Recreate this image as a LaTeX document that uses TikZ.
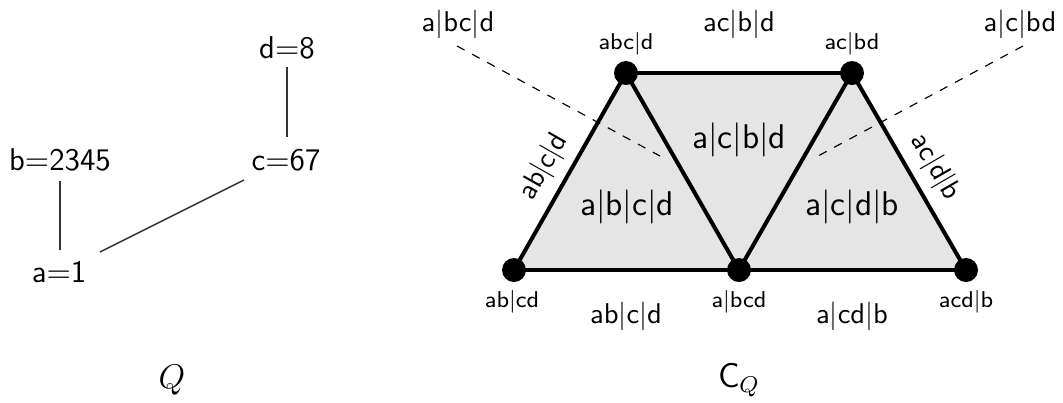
\documentclass[tikz,border=0pt]{standalone}
\begin{document}
\begin{tikzpicture}[x=0.35pt,y=-0.35pt,font=\sffamily,
  qlab/.style={inner sep=1pt,font=\sffamily\fontsize{11pt}{13pt}\selectfont},
  qedge/.style={black!80,line width=0.5pt},
  vert/.style={circle,fill=black,inner sep=0pt,minimum size=8.4pt},
  cedge/.style={line width=1.4pt,line cap=round},
  small/.style={font=\sffamily\footnotesize},
  big/.style={font=\sffamily},
  face/.style={font=\sffamily\large},
  dashline/.style={dashed,line width=0.4pt}]
\useasboundingbox (0,0) rectangle (1063,402);
% ---- Q ----
\node[qlab] (d) at (287,48) {d$=$8};
\node[qlab] (c) at (286,160) {c$=$67};
\node[qlab] (b) at (60,160) {b$=$2345};
\node[qlab] (a) at (59,272) {a$=$1};
\coordinate (dS) at (287,67); \coordinate (cN) at (287,137);
\coordinate (bS) at (60,181); \coordinate (aN) at (60,250);
\coordinate (aE) at (100,252); \coordinate (cW) at (244,180);
\draw[qedge] (dS) -- (cN);
\draw[qedge] (bS) -- (aN);
\draw[qedge] (aE) -- (cW);
\node[font=\large] (Qlab) at (172,380) {$Q$};
% ---- C_Q ----
\coordinate (v1) at (626,73);
\coordinate (v2) at (852,73);
\coordinate (v3) at (514,270);
\coordinate (v4) at (739,270);
\coordinate (v5) at (966,270);
\fill[black!10] (v3) -- (v1) -- (v2) -- (v5) -- cycle;
\coordinate (dl1) at (457,46); \coordinate (dl2) at (660,156);
\coordinate (dr1) at (1023,46); \coordinate (dr2) at (818,156);
\draw[dashline] (dl1) -- (dl2);
\draw[dashline] (dr1) -- (dr2);
\draw[cedge] (v3) -- (v1);
\draw[cedge] (v1) -- (v2);
\draw[cedge] (v2) -- (v5);
\draw[cedge] (v3) -- (v4);
\draw[cedge] (v4) -- (v5);
\draw[cedge] (v1) -- (v4);
\draw[cedge] (v4) -- (v2);
\node[vert] (n1) at (v1) {};
\node[vert] (n2) at (v2) {};
\node[vert] (n3) at (v3) {};
\node[vert] (n4) at (v4) {};
\node[vert] (n5) at (v5) {};
\path (v3) -- (v1) node[pos=0.46,sloped,above,inner sep=3.5pt,big] (eL) {ab$|$c$|$d};
\path (v2) -- (v5) node[pos=0.54,sloped,above,inner sep=3.5pt,big] (eR) {ac$|$d$|$b};
\node[small] (l1) at (626,44) {abc$|$d};
\node[small] (l2) at (852,44) {ac$|$bd};
\node[small] (l3) at (512,302) {ab$|$cd};
\node[small] (l4) at (739,302) {a$|$bcd};
\node[small] (l5) at (966,302) {acd$|$b};
\node[big] (t1) at (458,24) {a$|$bc$|$d};
\node[big] (t2) at (739,24) {ac$|$b$|$d};
\node[big] (t3) at (1020,24) {a$|$c$|$bd};
\node[big] (b1) at (626,316) {ab$|$c$|$d};
\node[big] (b2) at (852,316) {a$|$cd$|$b};
\node[face] (f1) at (627,207) {a$|$b$|$c$|$d};
\node[face] (f2) at (739,140) {a$|$c$|$b$|$d};
\node[face] (f3) at (852,207) {a$|$c$|$d$|$b};
\node[font=\sffamily\large] (CQ) at (739,380) {C$_Q$};
\end{tikzpicture}
\end{document}
